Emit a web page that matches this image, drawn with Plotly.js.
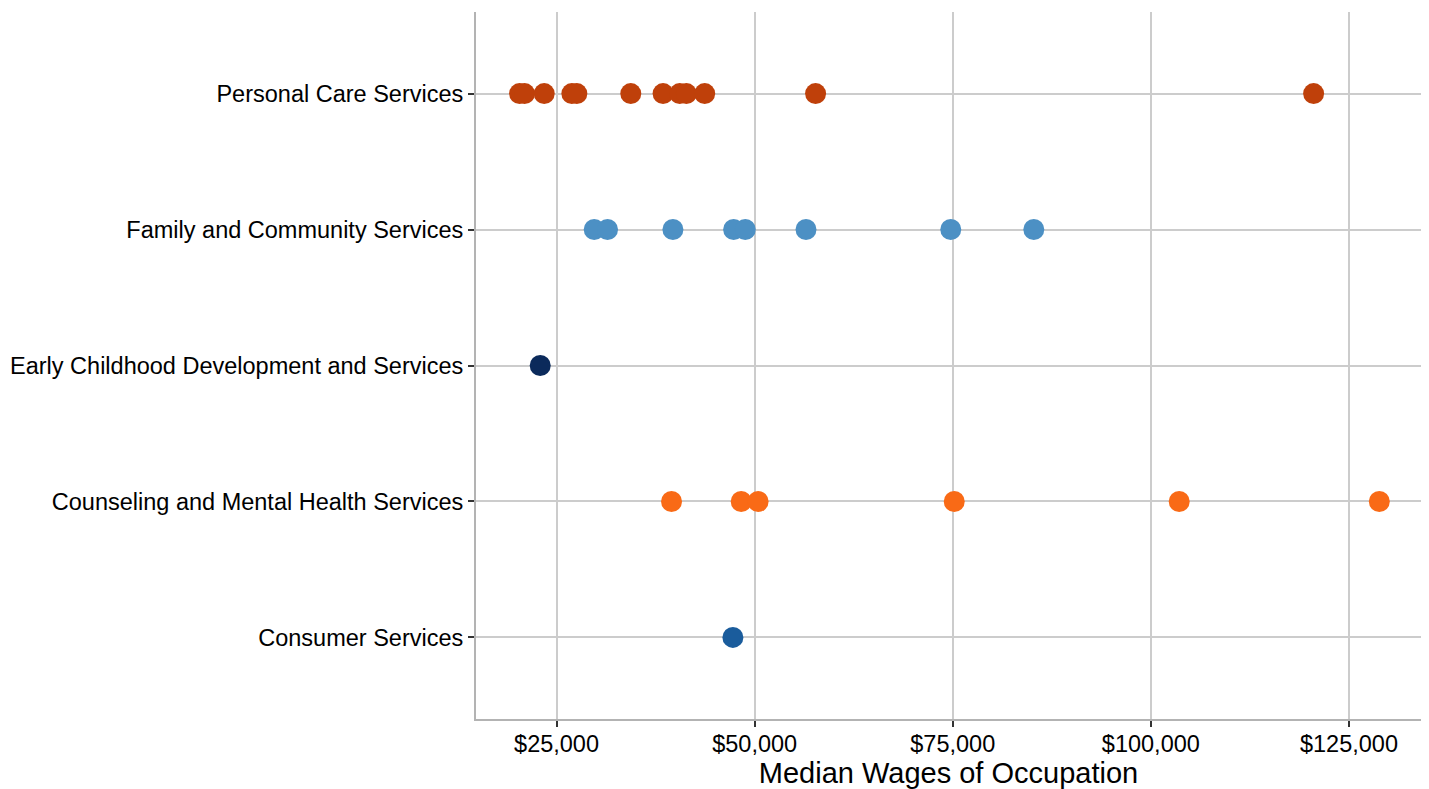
<!DOCTYPE html>
<html>
<head>
<meta charset="utf-8">
<script src="https://cdn.plot.ly/plotly-3.0.1.min.js"></script>
<style>html,body{margin:0;padding:0;background:#fff;}#chart{width:1429px;height:789px;}</style>
</head>
<body>
<div id="chart"></div>
<script>
// Categories (bottom to top)
const categories = [
  "Consumer Services",
  "Counseling and Mental Health Services",
  "Early Childhood Development and Services",
  "Family and Community Services",
  "Personal Care Services"
];
// Median wages per occupation, by cluster
const consumerWages = [47255];
const counselingWages = [39511, 48304, 50440, 75188, 103578, 128830];
const earlyChildhoodWages = [22942];
const familyWages = [29755, 31438, 39688, 47348, 48821, 56482, 74749, 85229];
const personalCareWages = [20336, 20966, 23445, 26933, 27563, 34370, 38446, 40547, 41387, 43698, 57691, 120540];

const tickValues = [25000, 50000, 75000, 100000, 125000];
const tickLabels = ["$25,000", "$50,000", "$75,000", "$100,000", "$125,000"];

const seriesWages = [consumerWages, counselingWages, earlyChildhoodWages, familyWages, personalCareWages];
const colors = ["#1A5C9C", "#F96A16", "#0B2A5B", "#4C90C4", "#BF400A"];

const traces = seriesWages.map((vals, i) => ({
  type: "scatter",
  mode: "markers",
  x: vals,
  y: vals.map(() => categories[i]),
  marker: {size: 21, color: colors[i], line: {width: 0}},
  hoverinfo: "x+y",
  showlegend: false
}));

const layout = {
  width: 1429,
  height: 789,
  margin: {l: 476, r: 8, t: 12, b: 70, pad: 0},
  paper_bgcolor: "#ffffff",
  plot_bgcolor: "#ffffff",
  font: {family: "Liberation Sans, Arial, sans-serif", size: 23.5, color: "#000000"},
  showlegend: false,
  xaxis: {
    range: [14838, 134090],
    tickvals: tickValues,
    ticktext: tickLabels,
    showgrid: true,
    gridcolor: "#CCCCCC",
    gridwidth: 2,
    zeroline: false,
    showline: true,
    linecolor: "#B3B3B3",
    linewidth: 2,
    ticks: "outside",
    ticklen: 6,
    tickwidth: 2,
    tickcolor: "#333333",
    ticklabelstandoff: -3,
    tickfont: {size: 23.5, color: "#000000"},
    title: {text: "Median Wages of Occupation", font: {size: 29, color: "#000000"}, standoff: 4},
    fixedrange: true
  },
  yaxis: {
    type: "category",
    categoryorder: "array",
    categoryarray: categories,
    range: [-0.6, 4.6],
    showgrid: true,
    gridcolor: "#CCCCCC",
    gridwidth: 2,
    zeroline: false,
    showline: true,
    linecolor: "#B3B3B3",
    linewidth: 2,
    ticks: "outside",
    ticklen: 6,
    tickwidth: 2,
    tickcolor: "#333333",
    tickfont: {size: 23.5, color: "#000000"},
    fixedrange: true
  }
};

Plotly.newPlot("chart", traces, layout, {displayModeBar: false, staticPlot: true});
</script>
</body>
</html>
